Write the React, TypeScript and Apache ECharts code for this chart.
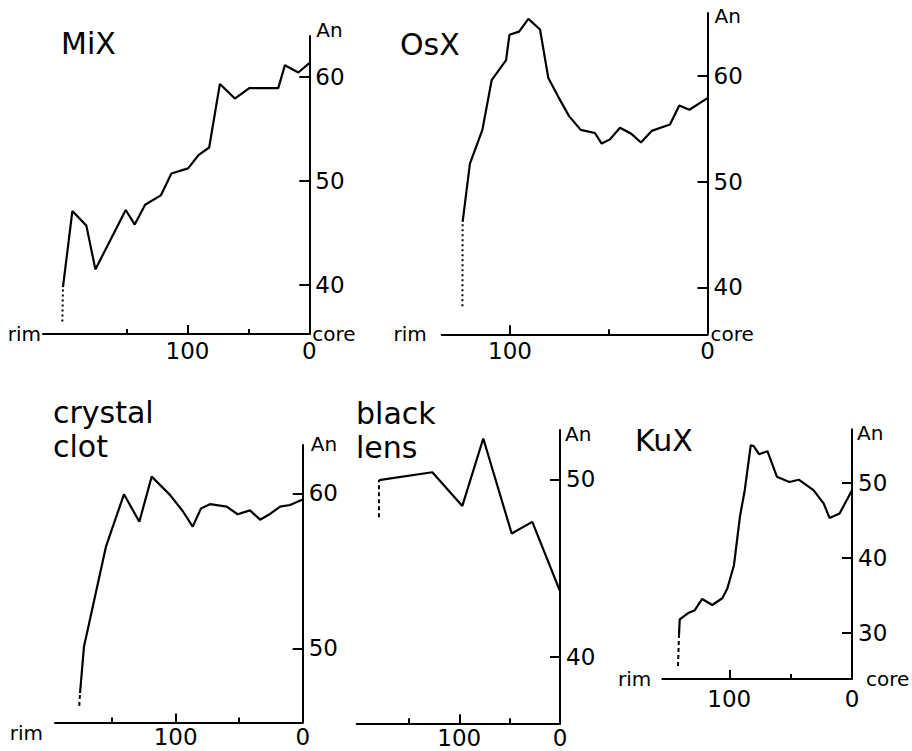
import React, { useEffect, useRef } from "react";
import * as echarts from "echarts";

// ---- data (distance from core, An content) ----
// MiX
const mixDist = [202.2, 194.5, 183, 175.6, 150.7, 143.3, 134.8, 121.9, 113.2, 99.5, 90.7, 82.2, 73.4, 61.1, 49.3, 25.5, 20, 9, 0];
const mixAn = [39.8, 47.1, 45.7, 41.5, 47.2, 45.8, 47.7, 48.6, 50.7, 51.2, 52.5, 53.2, 59.3, 57.9, 58.9, 58.9, 61.1, 60.4, 61.3];
const mixRimDist = [202.7, 202.2];
const mixRimAn = [36.5, 39.8];
// OsX
const osxDist = [124, 120.3, 114, 109.3, 102, 100.3, 95.4, 90.7, 84.8, 80.6, 75.5, 70.1, 64.2, 57, 53.6, 49.4, 44.3, 38.4, 33.7, 28.3, 19, 14.3, 9.2, 0];
const osxAn = [46.2, 51.7, 54.9, 59.6, 61.5, 63.9, 64.2, 65.4, 64.4, 59.8, 58.0, 56.2, 54.9, 54.6, 53.6, 54.0, 55.1, 54.5, 53.7, 54.8, 55.4, 57.2, 56.8, 57.9];
const osxRimDist = [124.1, 124];
const osxRimAn = [38.2, 46.2];
// crystal clot
const clotDist = [175.3, 172.2, 154.9, 140.7, 128.6, 118.9, 104.5, 94.5, 86.6, 80, 73, 59.8, 51.2, 41.5, 33.6, 25.7, 17.8, 10, 0];
const clotAn = [47.1, 50.1, 56.56, 59.94, 58.17, 61.08, 59.9, 58.86, 57.85, 59.03, 59.3, 59.14, 58.65, 58.9, 58.3, 58.67, 59.14, 59.25, 59.6];
const clotRimDist = [175.9, 175.3];
const clotRimAn = [46.28, 47.1];
// black lens
const lensDist = [179.8, 126.8, 97, 76.2, 48, 27.5, 0];
const lensAn = [49.96, 50.4, 48.5, 52.3, 46.95, 47.6, 43.7];
const lensRimDist = [179.8, 179.8];
const lensRimAn = [47.86, 49.96];
// KuX
const kuxDist = [141, 140.4, 133, 128.1, 122.1, 113.9, 105.7, 101.6, 96.2, 91.3, 87.4, 82.5, 80.3, 75.7, 68.9, 61.2, 51.1, 43.4, 31.4, 23, 18.3, 10.1, 0];
const kuxAn = [29.7, 31.78, 32.67, 33.0, 34.5, 33.7, 34.6, 35.9, 39.0, 45.5, 49.0, 55.0, 54.9, 53.8, 54.2, 50.8, 50.1, 50.4, 49.0, 47.2, 45.3, 45.9, 49.0];
const kuxRimDist = [141.8, 141];
const kuxRimAn = [25.56, 29.7];

// ---- tick labels ----
const mixYTicks = [40, 50, 60];
const osxYTicks = [40, 50, 60];
const clotYTicks = [50, 60];
const lensYTicks = [40, 50];
const kuxYTicks = [30, 40, 50];
const xLabelTicks = [0, 100];
const xMajorTicks = [100];
const minorLong = [50, 150];
const minorShort = [50];

const FONT = "DejaVu Sans";

type Panel = {
  title: string;
  titleLeft: number;
  titleTop: number;
  grid: { left: number; top: number; width: number; height: number };
  xMax: number;
  yMin: number;
  yMax: number;
  yTicks: number[];
  xMinor: number[];
  dist: number[];
  an: number[];
  rimDist: number[];
  rimAn: number[];
  rimType: any;
  rim: boolean;
  rimGap: number;
  rimAlign: string;
  core: boolean;
  coreGap: number;
  anDx: number;
  anGap: number;
  xLabelMargin: number;
};

const panels: Panel[] = [
  {
    title: "MiX", titleLeft: 61, titleTop: 26,
    grid: { left: 43, top: 36, width: 266.3, height: 298 },
    xMax: 218.6, yMin: 35.3, yMax: 63.9, yTicks: mixYTicks, xMinor: minorLong,
    dist: mixDist, an: mixAn, rimDist: mixRimDist, rimAn: mixRimAn, rimType: [2, 3],
    rim: true, rimGap: 2, rimAlign: "middle", core: true, coreGap: 3, anDx: 7, anGap: 6, xLabelMargin: 5,
  },
  {
    title: "OsX", titleLeft: 400, titleTop: 27,
    grid: { left: 441.7, top: 13, width: 265.8, height: 321.3 },
    xMax: 134.6, yMin: 35.55, yMax: 65.96, yTicks: osxYTicks, xMinor: minorShort,
    dist: osxDist, an: osxAn, rimDist: osxRimDist, rimAn: osxRimAn, rimType: [2, 3],
    rim: true, rimGap: 15, rimAlign: "middle", core: true, coreGap: 3, anDx: 7, anGap: -3, xLabelMargin: 5,
  },
  {
    title: "crystal\nclot", titleLeft: 53, titleTop: 395,
    grid: { left: 55, top: 445, width: 247.7, height: 277.5 },
    xMax: 195, yMin: 45.21, yMax: 63.12, yTicks: clotYTicks, xMinor: minorLong,
    dist: clotDist, an: clotAn, rimDist: clotRimDist, rimAn: clotRimAn, rimType: [4, 3],
    rim: true, rimGap: 12, rimAlign: "top", core: false, coreGap: 3, anDx: 8, anGap: 1, xLabelMargin: 3,
  },
  {
    title: "black\nlens", titleLeft: 356, titleTop: 396,
    grid: { left: 356.7, top: 430, width: 203.3, height: 293.3 },
    xMax: 201.9, yMin: 36.25, yMax: 52.78, yTicks: lensYTicks, xMinor: minorLong,
    dist: lensDist, an: lensAn, rimDist: lensRimDist, rimAn: lensRimAn, rimType: [4, 3],
    rim: false, rimGap: 0, rimAlign: "middle", core: false, coreGap: 0, anDx: 5, anGap: -4, xLabelMargin: 3,
  },
  {
    title: "KuX", titleLeft: 635, titleTop: 423,
    grid: { left: 662.3, top: 429.3, width: 189.7, height: 249.7 },
    xMax: 154.6, yMin: 23.83, yMax: 57.12, yTicks: kuxYTicks, xMinor: minorShort,
    dist: kuxDist, an: kuxAn, rimDist: kuxRimDist, rimAn: kuxRimAn, rimType: [4, 3],
    rim: true, rimGap: 11, rimAlign: "middle", core: true, coreGap: 14, anDx: 5, anGap: -4, xLabelMargin: 8,
  },
];

const zip = (a: number[], b: number[]) => a.map((v, i) => [v, b[i]]);

function buildOption() {
  const black = "#000";
  const grid: any[] = [];
  const xAxis: any[] = [];
  const yAxis: any[] = [];
  const series: any[] = [];
  const title: any[] = [];

  panels.forEach((p, i) => {
    grid.push({ ...p.grid, outerBoundsMode: "none", containLabel: false });
    title.push({
      text: p.title,
      left: p.titleLeft,
      top: p.titleTop,
      padding: 0,
      textStyle: { fontFamily: FONT, fontSize: 30, fontWeight: "normal", color: black, lineHeight: 34 },
    });
    xAxis.push({
      type: "value", gridIndex: i, min: 0, max: p.xMax, inverse: true, position: "bottom",
      axisLine: { show: true, onZero: false, lineStyle: { color: black, width: 2 } },
      axisTick: { show: true, inside: true, length: 9, customValues: xMajorTicks, lineStyle: { color: black, width: 2 } },
      axisLabel: { show: true, customValues: xLabelTicks, color: black, fontSize: 23, fontFamily: FONT, margin: p.xLabelMargin },
      splitLine: { show: false },
      name: p.rim ? "rim" : "",
      nameLocation: "end",
      nameGap: p.rimGap,
      nameMoveOverlap: false,
      nameTextStyle: { color: black, fontSize: 20, fontFamily: FONT, verticalAlign: p.rimAlign },
    });
    xAxis.push({
      type: "value", gridIndex: i, min: 0, max: p.xMax, inverse: true, position: "bottom",
      axisLine: { show: false, onZero: false },
      axisTick: { show: true, inside: true, length: 5, customValues: p.xMinor, lineStyle: { color: black, width: 2 } },
      axisLabel: { show: false },
      splitLine: { show: false },
      name: p.core ? "core" : "",
      nameLocation: "start",
      nameGap: p.coreGap,
      nameMoveOverlap: false,
      nameTextStyle: { color: black, fontSize: 20, fontFamily: FONT, verticalAlign: "middle" },
    });
    yAxis.push({
      type: "value", gridIndex: i, min: p.yMin, max: p.yMax, position: "right",
      axisLine: { show: true, onZero: false, lineStyle: { color: black, width: 2 } },
      axisTick: { show: true, inside: true, length: 10, customValues: p.yTicks, lineStyle: { color: black, width: 2 } },
      axisLabel: { show: true, customValues: p.yTicks, color: black, fontSize: 23, fontFamily: FONT, margin: 6 },
      splitLine: { show: false },
      name: "An",
      nameLocation: "end",
      nameGap: p.anGap,
      nameMoveOverlap: false,
      nameTextStyle: { color: black, fontSize: 20, fontFamily: FONT, align: "left", verticalAlign: "middle", padding: [0, 0, 0, p.anDx] },
    });
    series.push({
      type: "line", xAxisIndex: 2 * i, yAxisIndex: i,
      data: zip(p.dist, p.an), symbol: "none", silent: true,
      lineStyle: { color: black, width: 2.2 },
    });
    series.push({
      type: "line", xAxisIndex: 2 * i, yAxisIndex: i,
      data: zip(p.rimDist, p.rimAn), symbol: "none", silent: true,
      lineStyle: { color: black, width: 2, type: p.rimType },
    });
  });

  return {
    animation: false,
    backgroundColor: "#fff",
    title,
    grid,
    xAxis,
    yAxis,
    series,
  };
}

export default function App() {
  const ref = useRef<HTMLDivElement>(null);
  useEffect(() => {
    if (!ref.current) return;
    const chart = echarts.init(ref.current, undefined, { renderer: "svg" });
    chart.setOption(buildOption() as any);
    return () => chart.dispose();
  }, []);
  return (
    <div
      ref={ref}
      style={{ position: "fixed", left: 0, top: 0, width: 912, height: 751, background: "#fff" }}
    />
  );
}
